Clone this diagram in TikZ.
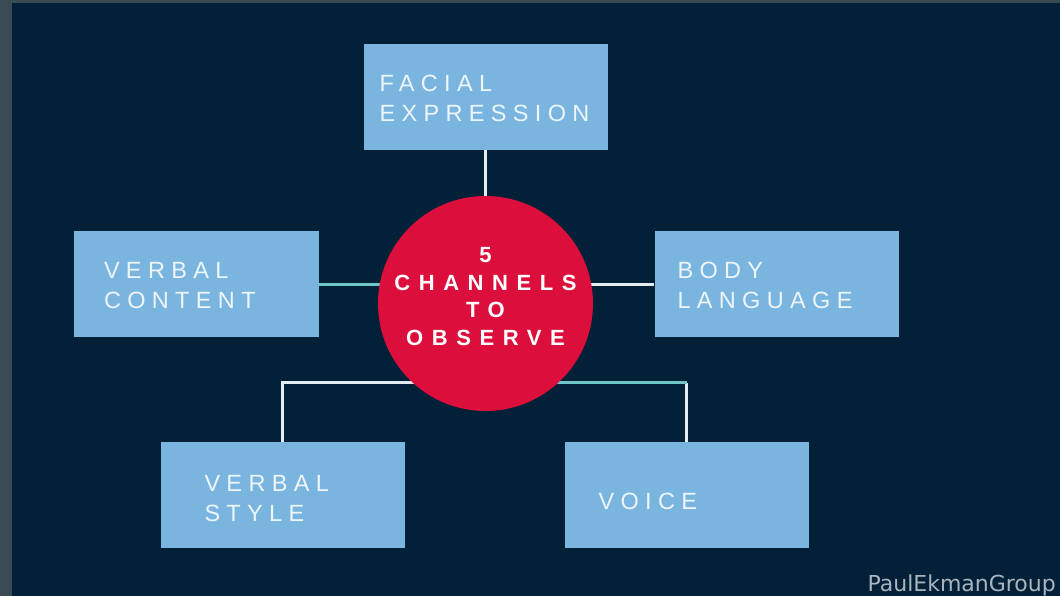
\documentclass[tikz,border=0pt]{standalone}
\usepackage{fontspec}
\usetikzlibrary{positioning}
\newfontfamily\boxfont[LetterSpace=27]{Liberation Sans}
\newfontfamily\hubfont[LetterSpace=39]{Liberation Sans}
\newfontfamily\creditfont{DejaVu Sans}

\definecolor{navy}{HTML}{022037}
\definecolor{framegray}{HTML}{3A4A52}
\definecolor{skybox}{HTML}{7AB5E0}
\definecolor{hubred}{HTML}{DC0E3C}
\definecolor{wirewhite}{HTML}{E4ECF0}
\definecolor{wireteal}{HTML}{6EC6C8}
\definecolor{boxtext}{HTML}{EEF5FB}
\definecolor{creditgray}{HTML}{A9B5BD}

\pgfdeclarelayer{back}
\pgfdeclarelayer{wires}
\pgfsetlayers{back,wires,main}

\begin{document}
\begin{tikzpicture}[x=1pt,y=-1pt,
    channel/.style={fill=skybox, minimum width=244pt, minimum height=106pt, inner sep=0pt},
    chlabel/.style={inner sep=0pt, text=boxtext, align=left, font=\boxfont\fontsize{23.5}{30}\selectfont},
    hub/.style={circle, fill=hubred, minimum size=215pt, inner sep=0pt, text depth=14pt, text=white, align=center, font=\hubfont\bfseries\fontsize{22}{27.8}\selectfont},
    wire/.style={line width=3pt, wirewhite},
    tealwire/.style={line width=3pt, wireteal}]
    \useasboundingbox (0,0) rectangle (1060,596);
    \begin{pgfonlayer}{back}
        \fill[framegray] (0,0) rectangle (1060,596);
        \fill[navy] (12,3) rectangle (1060,596);
    \end{pgfonlayer}

    \node[channel] (facial) at (485.5,97) {};
    \node[channel, minimum width=245pt] (vcontent) at (196.5,284) {};
    \node[channel] (blang) at (776.5,284) {};
    \node[channel] (vstyle) at (282.5,495) {};
    \node[channel] (voice) at (686.5,495) {};
    \node[hub] (hub) at (485.5,303.5) {5\\CHANNELS\\TO\\OBSERVE};

    \node[chlabel, right=16pt of facial.west, yshift=-1.5pt] (facialtext) {FACIAL\\EXPRESSION};
    \node[chlabel, right=30pt of vcontent.west, yshift=-1.5pt] (vcontenttext) {VERBAL\\CONTENT};
    \node[chlabel, right=23pt of blang.west, yshift=-1.5pt] (blangtext) {BODY\\LANGUAGE};
    \node[chlabel, right=44pt of vstyle.west, yshift=-4pt] (vstyletext) {VERBAL\\STYLE};
    \node[chlabel, right=34pt of voice.west, yshift=-6pt] (voicetext) {VOICE};

    \begin{pgfonlayer}{wires}
        \draw[wire] (facial.south) -- (hub.north);
        \draw[tealwire] (vcontent.east) -- (vcontent.east -| hub.center);
        \draw[wire] (blang.west) -- (blang.west -| hub.center);
        \draw[wire] (vstyle.north) -- ++(0,-59) -| (hub.south);
        \draw[wire] (voice.north) -- ++(0,-59) coordinate (vbend);
        \draw[tealwire] (vbend) -| (hub.south);
    \end{pgfonlayer}

    \node[anchor=base east, inner sep=0pt, text=creditgray, font=\creditfont\fontsize{22}{26}\selectfont] (credit) at (1056,591) {PaulEkmanGroup};
\end{tikzpicture}
\end{document}
